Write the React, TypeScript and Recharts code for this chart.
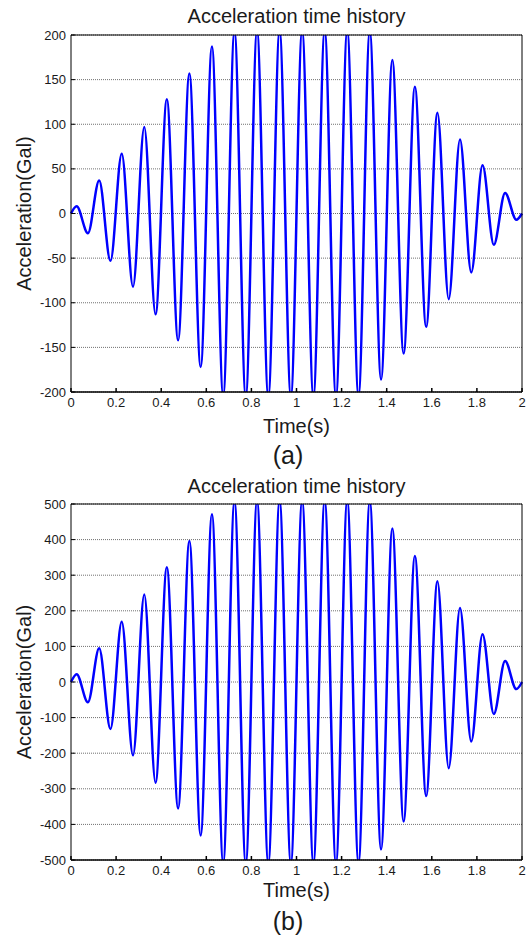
import React from 'react';
import { LineChart, Line, XAxis, YAxis, CartesianGrid, Label } from 'recharts';

// peak / trough times (s)
const timeS = [
  0, 0.025, 0.075, 0.125, 0.175, 0.225, 0.275, 0.325, 0.375, 0.425, 0.475,
  0.525, 0.575, 0.625, 0.675, 0.725, 0.775, 0.825, 0.875, 0.925, 0.975,
  1.025, 1.075, 1.125, 1.175, 1.225, 1.275, 1.325, 1.375, 1.425, 1.475,
  1.525, 1.575, 1.625, 1.675, 1.725, 1.775, 1.825, 1.875, 1.925, 1.975, 2.0,
];

// (a) acceleration at those times (Gal)
const accelA = [
  0, 8, -22, 37, -53, 67, -82, 97, -113, 128, -142,
  157, -172, 187, -204, 204, -205, 205, -205, 205, -205,
  205, -205, 205, -205, 205, -204, 204, -186, 172, -157,
  142, -127, 113, -96, 83, -66, 54, -35, 23, -7, 0,
];

// (b) acceleration at those times (Gal)
const accelB = [
  0, 22, -57, 95, -132, 169, -206, 246, -283, 322, -355,
  396, -431, 471, -508, 508, -510, 510, -510, 510, -510,
  510, -510, 510, -510, 510, -508, 508, -470, 431, -392,
  354, -320, 283, -242, 208, -167, 134, -90, 59, -20, 0,
];

const timeTicks = [0, 0.2, 0.4, 0.6, 0.8, 1, 1.2, 1.4, 1.6, 1.8, 2];
const ticksA = [-200, -150, -100, -50, 0, 50, 100, 150, 200];
const ticksB = [-500, -400, -300, -200, -100, 0, 100, 200, 300, 400, 500];

const font = "'Liberation Sans', Arial, Helvetica, sans-serif";
const tickStyle = { fontSize: 13, fill: '#1a1a1a', fontFamily: font };
const labelStyle = { fontSize: 20, fill: '#1a1a1a', fontFamily: font };

type PanelProps = {
  values: number[];
  ticks: number[];
  height: number;
  margin: { top: number; right: number; bottom: number; left: number };
  titleOffset: number;
  xLabelOffset: number;
};

const Panel = ({ values, ticks, height, margin, titleOffset, xLabelOffset }: PanelProps) => {
  const data = timeS.map((t, i) => ({ t, a: values[i] }));
  const lo = ticks[0];
  const hi = ticks[ticks.length - 1];

  return (
    <LineChart width={529} height={height} data={data} margin={margin}>
      <CartesianGrid
        vertical={false}
        stroke="#707070"
        strokeDasharray="1 1"
        yAxisId="left"
        xAxisId="bottom"
      />
      <XAxis
        xAxisId="bottom"
        type="number"
        dataKey="t"
        domain={[0, 2]}
        ticks={timeTicks}
        height={40}
        stroke="#000"
        strokeWidth={1.5}
        tickSize={-4}
        tickMargin={10}
        tick={tickStyle}
      >
        <Label value="Time(s)" position="insideBottom" offset={xLabelOffset} style={labelStyle} />
      </XAxis>
      <XAxis
        xAxisId="top"
        orientation="top"
        type="number"
        dataKey="t"
        domain={[0, 2]}
        ticks={timeTicks}
        height={1}
        stroke="#000"
        tickSize={-4}
        tick={false}
      >
        <Label value="Acceleration time history" position="top" offset={titleOffset} style={labelStyle} />
      </XAxis>
      <YAxis
        yAxisId="left"
        type="number"
        domain={[lo, hi]}
        ticks={ticks}
        allowDataOverflow
        width={60}
        stroke="#000"
        tickSize={-4}
        tickMargin={9}
        tick={tickStyle}
      >
        <Label
          value="Acceleration(Gal)"
          angle={-90}
          position="insideLeft"
          offset={13}
          style={{ ...labelStyle, textAnchor: 'middle' }}
        />
      </YAxis>
      <YAxis
        yAxisId="right"
        orientation="right"
        type="number"
        domain={[lo, hi]}
        ticks={ticks}
        allowDataOverflow
        width={1}
        stroke="#000"
        tickSize={-4}
        tick={false}
      />
      <Line
        xAxisId="bottom"
        yAxisId="left"
        type="monotone"
        dataKey="a"
        stroke="#0000ff"
        strokeWidth={2.5}
        dot={false}
        isAnimationActive={false}
      />
    </LineChart>
  );
};

export default function App() {
  return (
    <div
      style={{
        position: 'absolute',
        left: 0,
        top: 0,
        width: 529,
        height: 939,
        background: '#fff',
        fontFamily: font,
      }}
    >
      <Panel
        values={accelA}
        ticks={ticksA}
        height={470}
        margin={{ top: 34, right: 6, bottom: 38, left: 11 }}
        titleOffset={11}
        xLabelOffset={-1}
      />
      <Panel
        values={accelB}
        ticks={ticksB}
        height={469}
        margin={{ top: 33, right: 6, bottom: 39, left: 11 }}
        titleOffset={10}
        xLabelOffset={3}
      />
      <svg
        width={529}
        height={939}
        style={{ position: 'absolute', left: 0, top: 0, pointerEvents: 'none' }}
      >
        <text x={288} y={464} textAnchor="middle" fontSize={25} fontFamily={font} fill="#1a1a1a">
          (a)
        </text>
        <text x={288} y={930} textAnchor="middle" fontSize={25} fontFamily={font} fill="#1a1a1a">
          (b)
        </text>
      </svg>
    </div>
  );
}
